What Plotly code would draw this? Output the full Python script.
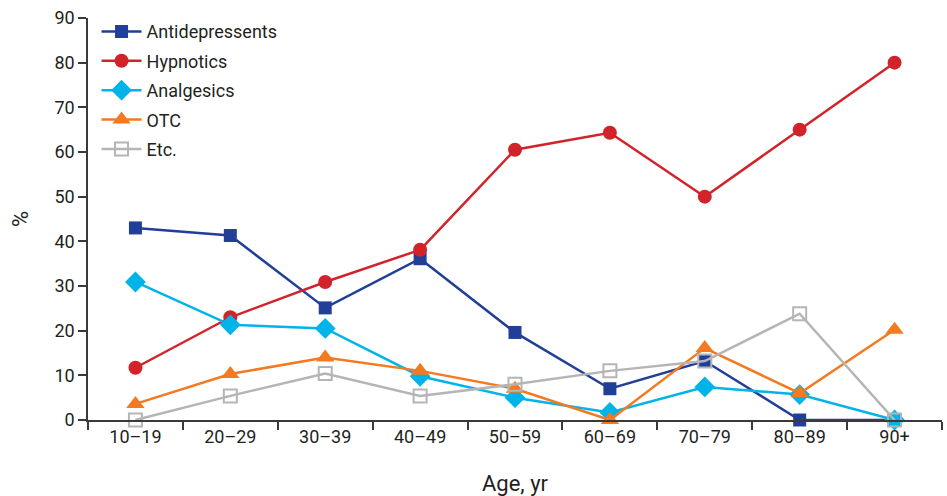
import plotly.graph_objects as go

categories = ["10–19", "20–29", "30–39", "40–49", "50–59", "60–69", "70–79", "80–89", "90+"]
antidepressants = [43.0, 41.3, 25.1, 36.1, 19.6, 7.0, 13.2, 0, 0]
hypnotics = [11.7, 23.0, 30.9, 38.1, 60.5, 64.3, 50.0, 65.0, 80.0]
analgesics = [30.9, 21.3, 20.5, 9.8, 5.0, 1.7, 7.4, 5.7, 0]
otc = [3.6, 10.3, 14.0, 11.0, 7.0, 0, 16.1, 6.0, 20.2]
etc_vals = [0, 5.4, 10.4, 5.4, 8.0, 11.0, 13.2, 23.8, 0]
y_ticks = [0, 10, 20, 30, 40, 50, 60, 70, 80, 90]

FONT = "Roboto"
fig = go.Figure()

series = [
    ("Antidepressents", antidepressants, "#213f99", dict(symbol="square", size=13)),
    ("Hypnotics", hypnotics, "#d2232a", dict(symbol="circle", size=14)),
    ("Analgesics", analgesics, "#00b4ea", dict(symbol="diamond", size=16)),
    ("OTC", otc, "#f37a21", dict(symbol="triangle-up", size=16)),
    ("Etc.", etc_vals, "#b5b5b5", dict(symbol="square-open", size=13, line=dict(width=2))),
]

for name, vals, color, mk in series:
    fig.add_trace(go.Scatter(
        x=categories, y=vals, name=name, mode="lines+markers",
        legendgroup=name,
        line=dict(color=color, width=2.5),
        marker=dict(color=color, **mk),
        cliponaxis=False,
    ))

fig.update_layout(
    width=947, height=496,
    margin=dict(l=88, r=5, t=18, b=76, autoexpand=False),
    plot_bgcolor="white", paper_bgcolor="white",
    font=dict(family=FONT, size=18, color="#231f20"),
    showlegend=True,
    legend=dict(x=0.01, y=1.012, xanchor="left", yanchor="top",
                bgcolor="rgba(0,0,0,0)", font=dict(size=18),
                tracegroupgap=3, itemwidth=40),
    xaxis=dict(
        type="category", range=[-0.5, 8.5], automargin=False,
        showline=True, linecolor="#3a3a3a", linewidth=1.5,
        ticks="outside", tickson="boundaries", ticklen=8, tickcolor="#3a3a3a", tickwidth=1.5,
        showgrid=False, zeroline=False,
        title=dict(text="Age, yr", standoff=30),
    ),
    yaxis=dict(
        range=[0, 90], tickvals=y_ticks, automargin=False,
        showline=True, linecolor="#3a3a3a", linewidth=1.5,
        ticks="outside", ticklen=8, tickcolor="#3a3a3a", tickwidth=1.5,
        showgrid=False, zeroline=False,
        title=dict(text="%", standoff=20),
    ),
)

fig.write_html("out.html", config={"displayModeBar": False},
               post_script="document.body.style.margin='0';")
